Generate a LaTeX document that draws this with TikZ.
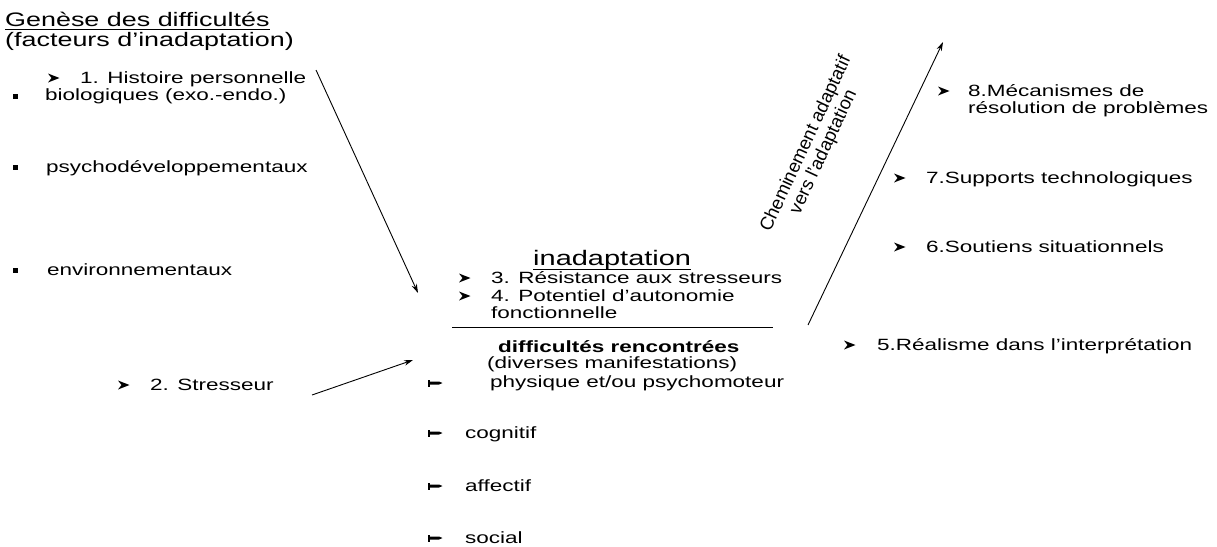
\documentclass[tikz,border=0pt]{standalone}
\usepackage{fontspec}
\setmainfont{Liberation Sans}[FakeStretch=1.38]
\newfontfamily\plainsans{Liberation Sans}
\usetikzlibrary{arrows.meta}
\begin{document}
\begin{tikzpicture}[x=1pt,y=-1pt,
  txt/.style={anchor=base west, inner sep=0pt, font=\fontsize{16.3}{19}\selectfont},
  ttl/.style={anchor=base west, inner sep=0pt, font=\fontsize{19.5}{23}\selectfont},
  sqb/.style={fill=black, minimum size=5pt, inner sep=0pt},
  arr/.style={line width=0.9pt, -{Stealth[length=9pt,width=5.5pt]}},
  ]
\useasboundingbox (0,0) rectangle (1217,546);
% left column
\node[ttl] (t1) at (5,27) {Genèse des difficultés};
\draw[line width=0.9pt] ([yshift=-2.5pt]t1.base west) -- ([yshift=-2.5pt]t1.base east);
\node[ttl] (t2) at (5,46) {(facteurs d’inadaptation)};
\node[txt] (h1) at (80,83) {1. Histoire personnelle};
\node[sqb] (s1) at (15.5,96) {};
\node[txt] (b1) at (45,100) {biologiques (exo.-endo.)};
\node[sqb] (s2) at (15.5,167) {};
\node[txt] (b2) at (46,172) {psychodéveloppementaux};
\node[sqb] (s3) at (15.5,270) {};
\node[txt] (b3) at (47,275) {environnementaux};
\node[txt] (h2) at (150,390) {2. Stresseur};
% centre
\node[anchor=base west, inner sep=0pt, font=\fontsize{21}{25}\selectfont] (ina) at (533,265) {inadaptation};
\draw[line width=0.9pt] ([yshift=-4.5pt]ina.base west) -- ([yshift=-4.5pt]ina.base east);
\node[txt] (c3) at (491,283) {3. Résistance aux stresseurs};
\node[txt] (c4) at (491,301) {4. Potentiel d’autonomie};
\node[txt] (c4b) at (491,318) {fonctionnelle};
\coordinate (l1) at (452,327);
\coordinate (l2) at (773,327);
\draw[line width=0.9pt] (l1) -- (l2);
\node[txt, font=\bfseries\fontsize{16.3}{19}\selectfont] (dr) at (498,352) {difficultés rencontrées};
\node[txt] (dm) at (487,368) {(diverses manifestations)};
\node[txt] (d1) at (490,387) {physique et/ou psychomoteur};
\node[txt] (d2) at (465,438) {cognitif};
\node[txt] (d3) at (465,491) {affectif};
\node[txt] (d4) at (465,543) {social};
\foreach \c in {383,433,486,538}{
  \fill (428,\c-3.5) rectangle (429.8,\c+3.5);
  \fill (429.8,\c-1.5) -- (439,\c-1.5) -- (442.5,\c) -- (439,\c+1.5) -- (429.8,\c+1.5) -- cycle;
}
% right column
\node[txt] (r8) at (968,96) {8.Mécanismes de};
\node[txt] (r8b) at (968,113) {résolution de problèmes};
\node[txt] (r7) at (926,183) {7.Supports technologiques};
\node[txt] (r6) at (926,252) {6.Soutiens situationnels};
\node[txt] (r5) at (877,350) {5.Réalisme dans l’interprétation};
% arrowhead bullets
\foreach \x/\y in {48/78, 118/385, 459/278, 459/296, 938/91, 894/178, 894/247, 844/345}{
  \fill (\x,\y-4.5) -- (\x+11.5,\y) -- (\x,\y+4.5) -- (\x+3.5,\y) -- cycle;
}
% rotated label
\node[inner sep=0pt, rotate=65, align=center, font=\plainsans\fontsize{18.5}{19.5}\selectfont] (ch) at (815,148) {Cheminement adaptatif\\vers l’adaptation};
% connectors
\coordinate (a1s) at (316,70);
\coordinate (a1e) at (418,293);
\coordinate (a2s) at (312,395);
\coordinate (a2e) at (413,360);
\coordinate (a3s) at (808,325);
\coordinate (a3e) at (943,42);
\draw[arr] (a1s) -- (a1e);
\draw[arr] (a2s) -- (a2e);
\draw[arr] (a3s) -- (a3e);
\end{tikzpicture}
\end{document}
